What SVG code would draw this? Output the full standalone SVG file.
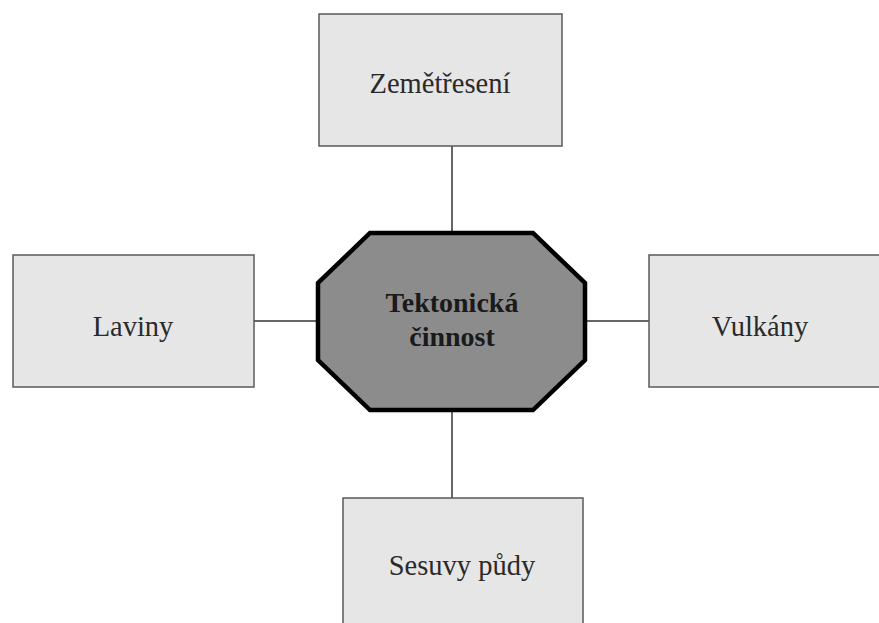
<svg xmlns="http://www.w3.org/2000/svg" width="879" height="623" viewBox="0 0 879 623">
<style>
.box{fill:#e6e6e6;stroke:#5a5a5a;stroke-width:1.5}
.lbl{font-family:"Liberation Serif","Times New Roman",serif;font-size:28.5px;fill:#2a2a2a;text-anchor:middle}
.hub{fill:#8c8c8c;stroke:#000;stroke-width:4.5;stroke-linejoin:miter}
.hubt{font-family:"Liberation Serif","Times New Roman",serif;font-size:28px;font-weight:bold;fill:#1a1a1a;text-anchor:middle}
.con{stroke:#333;stroke-width:1.5;fill:none}
</style>
<rect width="879" height="623" fill="#fff"/>
<g id="connectors">
<line class="con" x1="452" y1="146" x2="452" y2="233"/>
<line class="con" x1="452" y1="410" x2="452" y2="498"/>
<line class="con" x1="254" y1="321" x2="318" y2="321"/>
<line class="con" x1="585" y1="321" x2="649" y2="321"/>
</g>
<g id="zemetreseni">
<rect class="box" x="319" y="14" width="243" height="132"/>
<text class="lbl" x="440" y="93">Zemětřesení</text>
</g>
<g id="laviny">
<rect class="box" x="13" y="255" width="241" height="132"/>
<text class="lbl" x="133" y="336">Laviny</text>
</g>
<g id="vulkany">
<rect class="box" x="649" y="255" width="241" height="132"/>
<text class="lbl" x="760" y="336">Vulkány</text>
</g>
<g id="sesuvy">
<rect class="box" x="343" y="498" width="240" height="132"/>
<text class="lbl" x="462" y="575">Sesuvy půdy</text>
</g>
<g id="tektonicka">
<polygon class="hub" points="370,233 533,233 585,283 585,360 533,410 370,410 318,360 318,283"/>
<text class="hubt" x="452" y="312">Tektonická</text>
<text class="hubt" x="452" y="346">činnost</text>
</g>
</svg>
